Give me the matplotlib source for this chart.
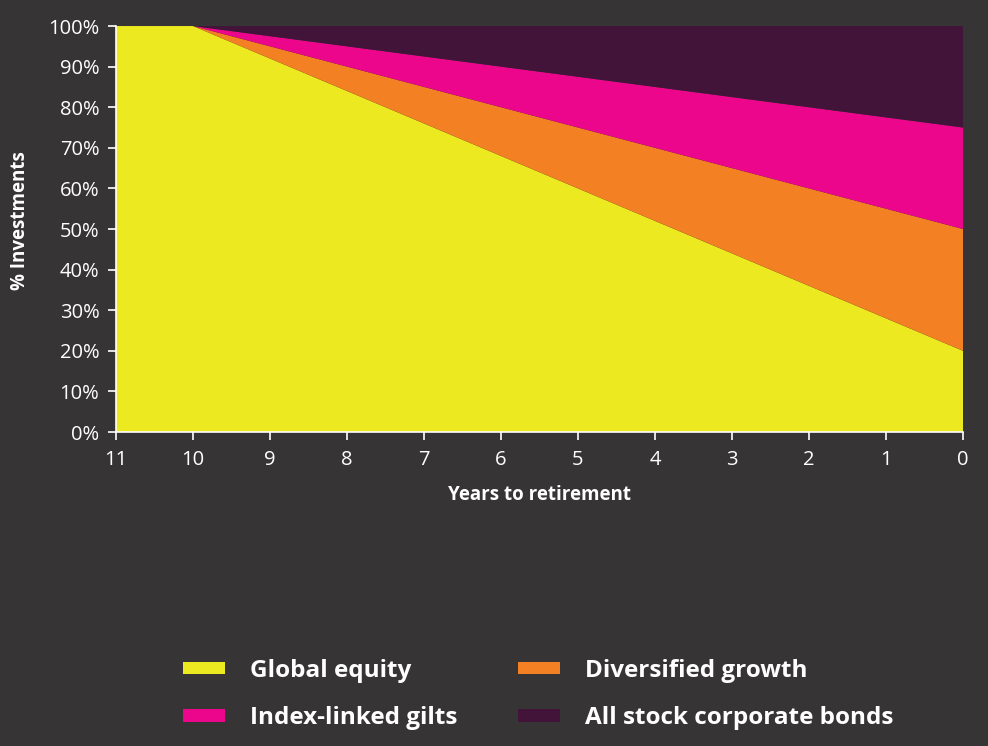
import matplotlib.pyplot as plt
from matplotlib.patches import Patch

# Glide path: share of each fund by years to retirement
years = [11, 10, 9, 8, 7, 6, 5, 4, 3, 2, 1, 0]
global_equity = [100, 100, 92, 84, 76, 68, 60, 52, 44, 36, 28, 20]
diversified_growth = [0, 0, 3, 6, 9, 12, 15, 18, 21, 24, 27, 30]
index_linked_gilts = [0, 0, 2.5, 5, 7.5, 10, 12.5, 15, 17.5, 20, 22.5, 25]
corporate_bonds = [0, 0, 2.5, 5, 7.5, 10, 12.5, 15, 17.5, 20, 22.5, 25]

labels = ["Global equity", "Diversified growth", "Index-linked gilts", "All stock corporate bonds"]
colors = ["#ECE920", "#F38023", "#EC068C", "#421439"]
bg = "#373435"

plt.rcParams["font.family"] = ["Open Sans", "DejaVu Sans"]

fig = plt.figure(figsize=(9.88, 7.46), dpi=100, facecolor=bg)
ax = fig.add_axes([0.1174, 0.4209, 0.8573, 0.5442])
ax.set_facecolor(bg)

ax.stackplot(years, global_equity, diversified_growth, index_linked_gilts, corporate_bonds,
             colors=colors, linewidth=0)

ax.set_xlim(11, 0)
ax.set_ylim(0, 100)
ax.set_xticks(years)
ax.set_yticks(range(0, 101, 10))
ax.set_yticklabels([f"{v}%" for v in range(0, 101, 10)])

for side in ["top", "right"]:
    ax.spines[side].set_visible(False)
for side in ["left", "bottom"]:
    ax.spines[side].set_color("white")
    ax.spines[side].set_linewidth(1.2)
ax.tick_params(colors="white", labelsize=14.5, length=6, width=1.2)
ax.tick_params(axis="x", pad=7)
ax.tick_params(axis="y", pad=6)

ax.set_xlabel("Years to retirement", color="white", fontsize=13.5, fontweight="bold", labelpad=11)
ax.set_ylabel("% Investments", color="white", fontsize=13.5, fontweight="bold")
ax.yaxis.set_label_coords(-0.1015, 0.52)

# legend: equity/gilts in the first column, growth/bonds in the second
order = [0, 2, 1, 3]
handles = [Patch(facecolor=colors[i], edgecolor="none") for i in order]
fig.legend(handles, [labels[i] for i in order], ncol=2, loc="center",
           bbox_to_anchor=(0.545, 0.069), frameon=False,
           prop={"size": 17.5, "weight": "bold"}, labelcolor="white",
           handlelength=1.7, handleheight=0.4, handletextpad=1.05,
           columnspacing=2.5, labelspacing=0.95)

fig.savefig("out.png", dpi=100, facecolor=bg)
